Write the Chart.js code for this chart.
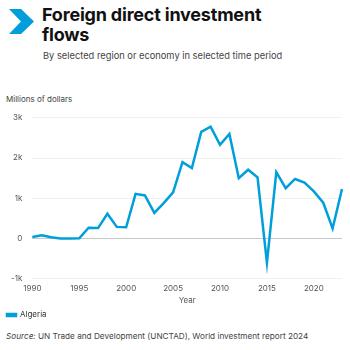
<!DOCTYPE html>
<html>
<head>
<meta charset="utf-8">
<script src="https://cdn.jsdelivr.net/npm/chart.js@4.4.1/dist/chart.umd.min.js"></script>
<style>
  html, body { margin: 0; padding: 0; background: #fff; }
  body { width: 350px; height: 350px; position: relative; overflow: hidden; font-family: Inter, "Noto Sans", sans-serif; }
  #logo { position: absolute; left: 9px; top: 9px; }
  #title { position: absolute; left: 42px; top: 5px; font-size: 18px; font-weight: 700; line-height: 20px; color: #111; letter-spacing: -0.2px; }
  #subtitle { position: absolute; left: 43px; top: 50px; font-size: 9.3px; color: #444; }
  #unit { position: absolute; left: 6px; top: 94px; font-size: 8px; color: #444; }
  #box { position: absolute; left: 0; top: 103px; width: 350px; height: 226px; }
  #source { position: absolute; left: 6px; top: 331px; font-size: 8.2px; color: #444; }
</style>
</head>
<body>
<svg id="logo" width="26" height="26" viewBox="0 0 26 26">
  <polygon points="0,0 12,0 25,12.5 12,25 0,25 12,12.5" fill="#009edb"/>
</svg>
<div id="title">Foreign direct investment<br>flows</div>
<div id="subtitle">By selected region or economy in selected time period</div>
<div id="unit">Millions of dollars</div>
<div id="box"><canvas id="chart"></canvas></div>
<div id="source"><i>Source:</i> UN Trade and Development (UNCTAD), World investment report 2024</div>
<script>
// ---- Datos ----
const years = [1990, 1991, 1992, 1993, 1994, 1995, 1996, 1997, 1998, 1999,
  2000, 2001, 2002, 2003, 2004, 2005, 2006, 2007, 2008, 2009,
  2010, 2011, 2012, 2013, 2014, 2015, 2016, 2017, 2018, 2019,
  2020, 2021, 2022, 2023];
const algeria = [40, 80, 30, 0, 0, 5, 270, 260, 615, 290,
  280, 1110, 1070, 640, 880, 1150, 1900, 1750, 2650, 2780,
  2330, 2600, 1500, 1710, 1520, -600, 1650, 1250, 1480, 1390,
  1170, 890, 250, 1230];
const yTicks = [-1000, 0, 1000, 2000, 3000];

const blue = "#009edb";
const tickFont = { family: "Inter", size: 8 };

new Chart(document.getElementById("chart"), {
  type: "line",
  data: {
    labels: years,
    datasets: [{
      label: "Algeria",
      data: algeria,
      borderColor: blue,
      backgroundColor: blue,
      borderWidth: 2.5,
      pointRadius: 0,
      tension: 0
    }]
  },
  options: {
    responsive: true,
    maintainAspectRatio: false,
    animation: false,
    layout: { padding: { left: 1, right: 8, top: 2, bottom: 0 } },
    plugins: {
      legend: {
        position: "bottom",
        align: "start",
        labels: { boxWidth: 9, boxHeight: 2, color: "#333", font: { family: "Inter", size: 8 }, padding: 6 }
      },
      tooltip: { enabled: false }
    },
    scales: {
      x: {
        grid: { display: false },
        border: { display: false },
        ticks: {
          autoSkip: false,
          maxRotation: 0,
          padding: -3,
          color: "#555",
          font: tickFont,
          callback: (v, i) => (years[i] % 5 === 0 ? String(years[i]) : null)
        },
        title: { display: true, text: "Year", color: "#555", font: tickFont, padding: { top: 5, bottom: 0 } }
      },
      y: {
        min: -1000,
        max: 3000,
        afterBuildTicks: s => { s.ticks = yTicks.map(v => ({ value: v })); },
        border: { display: false },
        grid: {
          drawTicks: false,
          color: c => (c.tick && c.tick.value === 0 ? "#c8c8c8" : "#eeeeee"),
          lineWidth: c => (c.tick && c.tick.value === 0 ? 1 : 0.8)
        },
        ticks: {
          color: "#555",
          font: tickFont,
          padding: 10,
          callback: v => (v === 0 ? "0" : (v / 1000) + "k")
        }
      }
    }
  }
});
</script>
</body>
</html>
